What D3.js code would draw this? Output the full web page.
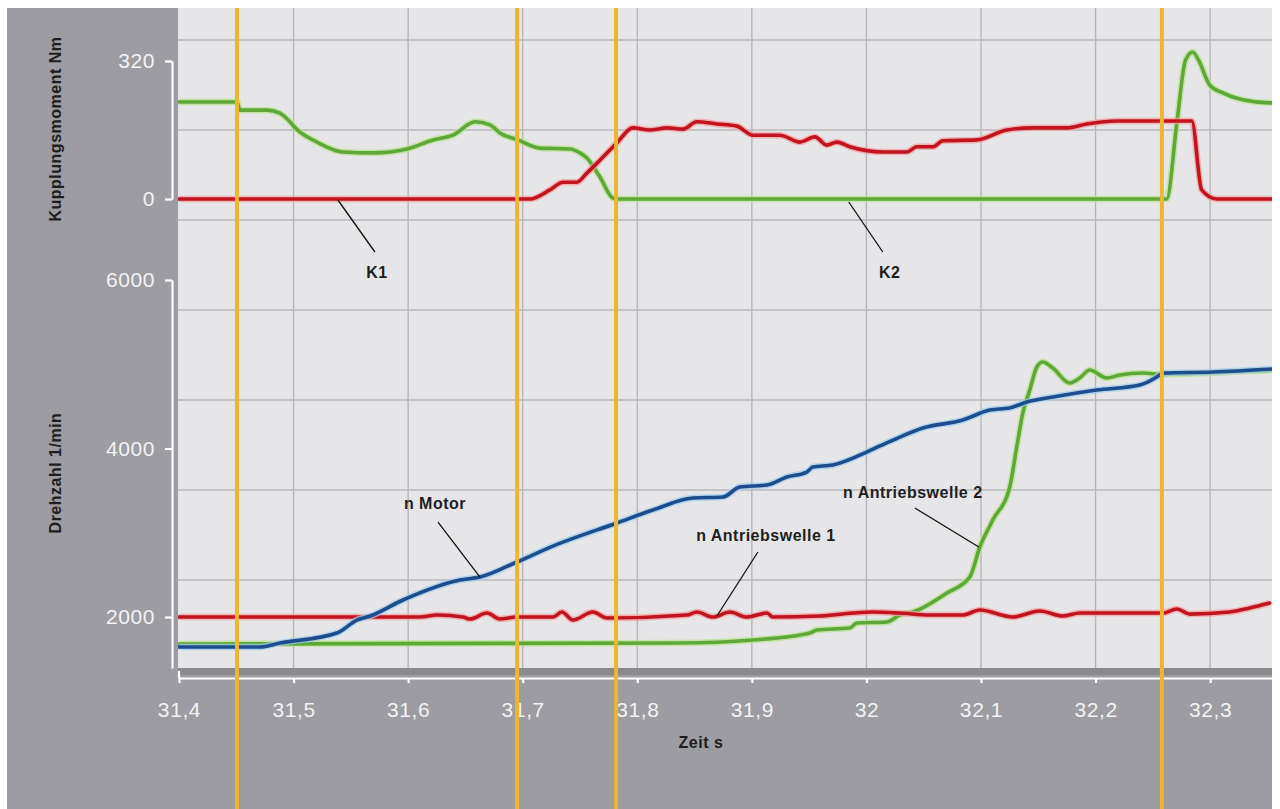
<!DOCTYPE html>
<html><head><meta charset="utf-8">
<script src="https://cdn.jsdelivr.net/npm/d3@7"></script>
<style>
html,body{margin:0;padding:0;background:#fff;}
svg{display:block;font-family:"Liberation Sans",Arial,sans-serif;}
</style></head><body>
<svg id="c" width="1280" height="809"></svg>
<script>
// ---------------- data ----------------
const xTicks = [31.4,31.5,31.6,31.7,31.8,31.9,32.0,32.1,32.2,32.3];
const torqueTicks = [0,320];
const speedTicks = [2000,4000,6000];
const markerTimes = [31.4506,31.6951,31.7815,32.2579];

const torqueGreen = [[31.4,225],[31.4506,225],[31.4532,206],[31.4768,206],[31.4881,199],[31.5056,155],
 [31.5204,132],[31.5431,109],[31.5693,107],[31.599,116],[31.6216,137],[31.6391,148],[31.6583,179],
 [31.6714,172],[31.6801,153],[31.6958,137],[31.715,118],[31.7412,116],[31.7499,107],[31.756,95],
 [31.7674,51],[31.7787,2],[31.7822,0],[32.2621,0],[32.2709,175],[32.2785,322],[32.2848,341],
 [32.2899,322],[32.2997,264],[32.311,246],[32.3284,230],[32.352,223],[32.3538,223]];

const torqueRed = [[31.4,0],[31.7063,0],[31.7237,21],[31.7351,39],[31.7473,39],[31.756,60],[31.7674,90],
 [31.7822,130],[31.7962,165],[31.811,160],[31.8258,165],[31.8398,162],[31.852,179],[31.8695,174],
 [31.8869,169],[31.9009,148],[31.9244,148],[31.9419,132],[31.955,144],[31.9654,125],[31.9742,132],
 [31.9855,121],[32.0143,109],[32.0353,109],[32.044,121],[32.0579,121],[32.0667,135],[32.0963,137],
 [32.1225,160],[32.1452,165],[32.1749,165],[32.1923,174],[32.2185,181],[32.256,181],[32.284,181],
 [32.2926,21],[32.3058,0],[32.3538,0]];

const speedMotor = [[31.4,1644],[31.4707,1644],[31.4881,1691],[31.5379,1810],[31.5553,1964],[31.5667,2012],
 [31.5955,2202],[31.6452,2439],[31.6627,2474],[31.6949,2653],[31.7264,2842],[31.7822,3116],[31.8136,3270],
 [31.8485,3412],[31.8747,3424],[31.8895,3543],[31.9131,3567],[31.9305,3662],[31.948,3721],[31.9532,3780],
 [31.9707,3804],[32.0003,3958],[32.0117,4030],[32.0291,4136],[32.0492,4243],[32.0841,4338],[32.1077,4457],
 [32.1251,4481],[32.14,4552],[32.1627,4611],[32.201,4694],[32.2386,4754],[32.2534,4849],[32.2586,4896],
 [32.3023,4908],[32.3538,4944]];

const speedShaft2 = [[31.4,1680],[31.8372,1691],[31.9009,1727],[31.9506,1810],[31.9567,1846],[31.9855,1869],
 [31.9916,1929],[32.0178,1941],[32.0291,2024],[32.0405,2059],[32.0702,2285],[32.0902,2474],[32.099,2831],
 [32.1103,3151],[32.1251,3543],[32.1312,4018],[32.1365,4421],[32.1426,4694],[32.1487,4967],[32.1539,5027],
 [32.1627,4955],[32.1775,4777],[32.1862,4837],[32.1949,4932],[32.2098,4837],[32.2211,4872],[32.2412,4896],
 [32.2586,4880],[32.3023,4900],[32.3538,4930]];

const speedShaft1 = [[31.4,2000],[31.6103,2000],[31.6251,2024],[31.6478,2000],[31.6539,1976],[31.6688,2047],
 [31.6801,1976],[31.6949,2000],[31.7264,2000],[31.7342,2059],[31.7438,1964],[31.7613,2059],[31.7735,1988],
 [31.8433,2024],[31.852,2059],[31.866,2000],[31.8808,2059],[31.8956,2000],[31.9131,2047],[31.9183,2000],
 [31.9593,2012],[31.9881,2047],[32.0056,2059],[32.0291,2047],[32.0553,2024],[32.0841,2024],[32.099,2083],
 [32.1277,2000],[32.1513,2071],[32.1714,2012],[32.1862,2047],[32.2586,2047],[32.2709,2095],[32.2822,2035],
 [32.3171,2059],[32.3346,2107],[32.352,2166]];

const annLabels = ["K1","K2","n Motor","n Antriebswelle 1","n Antriebswelle 2"];
const annTimes  = [31.5387,31.9846,31.6627,31.8695,32.0981];
const annValues = [0,0,2474,2012,2831];
const annPanel  = ["torque","torque","speed","speed","speed"];

const axisTitles = {torque:"Kupplungsmoment Nm", speed:"Drehzahl 1/min", time:"Zeit s"};

// ---------------- layout ----------------
const svg = d3.select("#c");
const P = {left:178, top:8, right:1272, bottom:668};
const x = d3.scaleLinear().domain([31.4,32.354]).range([179,1272]);
const yT = d3.scaleLinear().domain([0,320]).range([199,61]);
const yS = d3.scaleLinear().domain([1395,6000]).range([668,280]);

// backgrounds
svg.append("rect").attr("x",7).attr("y",8).attr("width",1265).attr("height",801).attr("fill","#9c9ca2");
svg.append("rect").attr("x",P.left).attr("y",P.top).attr("width",P.right-P.left).attr("height",P.bottom-P.top).attr("fill","#e6e6e8");
svg.append("rect").attr("x",P.left).attr("y",P.bottom).attr("width",P.right-P.left).attr("height",7).attr("fill","#8a8a8e");

// grid
const grid = svg.append("g");
grid.selectAll("line.v").data(xTicks.slice(1)).join("line")
  .attr("x1",d=>x(d)).attr("x2",d=>x(d)).attr("y1",P.top).attr("y2",P.bottom)
  .attr("stroke","#b3b3b7").attr("stroke-width",1.3);
grid.selectAll("line.h").data(d3.range(P.top+32,P.bottom-2,90)).join("line")
  .attr("x1",P.left).attr("x2",P.right).attr("y1",d=>d).attr("y2",d=>d)
  .attr("stroke","#b8b8bc").attr("stroke-width",1.3);

// clip
svg.append("clipPath").attr("id","clip").append("rect")
  .attr("x",P.left).attr("y",P.top).attr("width",P.right-P.left).attr("height",P.bottom-P.top);
const plot = svg.append("g").attr("clip-path","url(#clip)");

function drawLine(data, yScale, core, halo){
  const gen = d3.line().x(d=>x(d[0])).y(d=>yScale(d[1])).curve(d3.curveMonotoneX);
  plot.append("path").attr("d",gen(data)).attr("fill","none").attr("stroke",halo)
    .attr("stroke-width",6.5).attr("stroke-opacity",0.75).attr("stroke-linejoin","round");
  plot.append("path").attr("d",gen(data)).attr("fill","none").attr("stroke",core)
    .attr("stroke-width",3.6).attr("stroke-linejoin","round").attr("stroke-linecap","round");
}
const RED="#c2141f", REDH="#f2a0a0", GREEN="#5ea83a", GREENH="#b8e38e", BLUE="#1d4d8c", BLUEH="#a2ccee";
drawLine(torqueGreen, yT, GREEN, GREENH);
drawLine(torqueRed, yT, RED, REDH);
drawLine(speedShaft2, yS, GREEN, GREENH);
drawLine(speedShaft1, yS, RED, REDH);
drawLine(speedMotor, yS, BLUE, BLUEH);

// axes
const fmtX = d => String(+d.toFixed(1)).replace(".",",");
const fmtY = d => String(d);
function styleAxis(g){
  g.selectAll(".domain").attr("stroke","#ffffff").attr("stroke-width",2.2);
  g.selectAll(".tick line").attr("stroke","#ffffff").attr("stroke-width",2.2);
  g.selectAll(".tick text").attr("fill","#f3f3f3").attr("font-size",21).attr("letter-spacing",0.6)
    .attr("font-family","'Liberation Sans',Arial,sans-serif");
}
const gT = svg.append("g").attr("transform","translate(172,0)")
  .call(d3.axisLeft(yT).tickValues(torqueTicks).tickFormat(fmtY).tickSize(7).tickSizeOuter(0).tickPadding(10));
styleAxis(gT);
const gS = svg.append("g").attr("transform","translate(172,0)")
  .call(d3.axisLeft(yS).tickValues(speedTicks).tickFormat(fmtY).tickSize(7).tickSizeOuter(0).tickPadding(10));
styleAxis(gS);
const gX = svg.append("g").attr("transform","translate(0,678)")
  .call(d3.axisBottom(x).tickValues(xTicks).tickFormat(fmtX).tickSize(5).tickSizeOuter(0).tickPadding(19));
styleAxis(gX);
gX.append("line").attr("x1",x(31.4)).attr("x2",x(31.4)).attr("y1",0).attr("y2",-7)
  .attr("stroke","#fff").attr("stroke-width",2.2);

// axis titles
const titleStyle = s => s.attr("font-weight","bold").attr("font-size",16).attr("letter-spacing",0.5)
  .attr("fill","#1e1e1e").attr("text-anchor","middle");
svg.append("text").attr("transform","translate(61,129) rotate(-90)").text(axisTitles.torque).call(titleStyle);
svg.append("text").attr("transform","translate(61,473) rotate(-90)").text(axisTitles.speed).call(titleStyle);
svg.append("text").attr("x",701).attr("y",748).text(axisTitles.time).call(titleStyle);

// annotations
const annOffsets = [[0,1,37,53,39,73],[0,3,34,53,41,73],[0,0,-42,-55,-45,-74],[0,0,41,-64,49,-81],[0,0,-64,-39,-66,-55]];
annLabels.forEach((lab,i)=>{
  const ax = x(annTimes[i]);
  const ay = annPanel[i]==="torque" ? yT(annValues[i]) : yS(annValues[i]);
  const o = annOffsets[i];
  svg.append("line").attr("x1",ax+o[0]).attr("y1",ay+o[1]).attr("x2",ax+o[2]).attr("y2",ay+o[3])
    .attr("stroke","#111").attr("stroke-width",1.3);
  svg.append("text").attr("x",ax+o[4]).attr("y",ay+o[5]).attr("dy","0.36em").text(lab).call(titleStyle);
});

// orange marker lines
svg.selectAll("line.mark").data(markerTimes).join("line")
  .attr("x1",d=>x(d)).attr("x2",d=>x(d)).attr("y1",8).attr("y2",809)
  .attr("stroke","#efb52e").attr("stroke-width",4);
</script>
</body></html>
